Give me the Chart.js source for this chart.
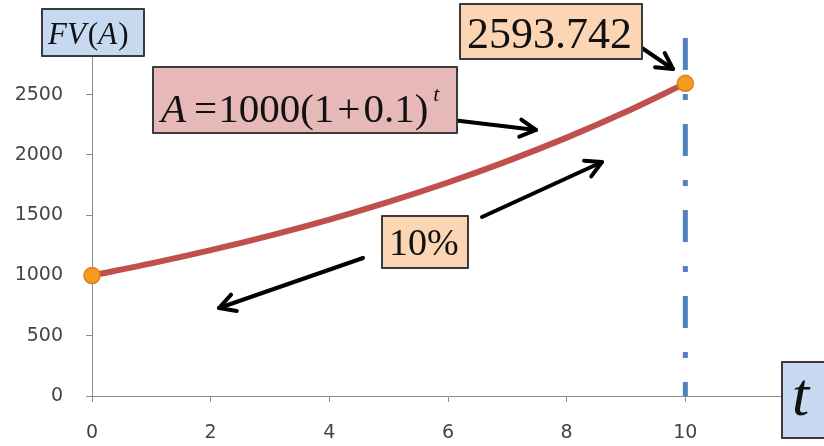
<!DOCTYPE html>
<html>
<head>
<meta charset="utf-8">
<script src="https://cdn.jsdelivr.net/npm/chart.js@4/dist/chart.umd.min.js"></script>
<style>
  html,body{margin:0;padding:0;background:#fff;}
  #wrap{width:824px;height:446px;position:relative;}
</style>
</head>
<body>
<div id="wrap"><canvas id="c" width="824" height="446"></canvas></div>
<script>
// ---- data ----
const tValues   = [0, 1, 2, 3, 4, 5, 6, 7, 8, 9, 10];
const fvValues  = [1000, 1100, 1210, 1331, 1464.1, 1610.51, 1771.56, 1948.72, 2143.59, 2357.95, 2593.742];
const markerT   = [0, 10];
const markerFV  = [1000, 2593.742];
const refLineT  = [10, 10];
const refLineY  = [2970, 0];
const xTickLabels = ['0', '2', '4', '6', '8', '10'];
const yTickLabels = ['0', '500', '1000', '1500', '2000', '2500'];
const valueLabel = '2593.742';
const rateLabel = '10%';

const toXY = (xs, ys) => xs.map((x, i) => ({x: x, y: ys[i]}));

const annotations = {
  id: 'annotations',
  afterDraw(chart) {
    const ctx = chart.ctx;
    ctx.save();
    function box(x1, y1, x2, y2, fill) {
      ctx.fillStyle = fill;
      ctx.fillRect(x1, y1, x2 - x1, y2 - y1);
      ctx.lineWidth = 2;
      ctx.strokeStyle = '#3a3a3a';
      ctx.strokeRect(x1, y1, x2 - x1, y2 - y1);
    }
    function arrow(x1, y1, x2, y2) {
      ctx.strokeStyle = '#000';
      ctx.lineWidth = 4;
      ctx.lineCap = 'round';
      ctx.lineJoin = 'round';
      ctx.beginPath();
      ctx.moveTo(x1, y1);
      ctx.lineTo(x2, y2);
      ctx.stroke();
      const a = Math.atan2(y2 - y1, x2 - x1);
      const L = 18, w = 0.5;
      ctx.beginPath();
      ctx.moveTo(x2 - L * Math.cos(a - w), y2 - L * Math.sin(a - w));
      ctx.lineTo(x2, y2);
      ctx.lineTo(x2 - L * Math.cos(a + w), y2 - L * Math.sin(a + w));
      ctx.stroke();
    }
    function runs(x, y, parts) {
      ctx.textBaseline = 'alphabetic';
      ctx.textAlign = 'left';
      ctx.fillStyle = '#111';
      for (const p of parts) {
        ctx.font = p.f;
        x += (p.dx || 0);
        ctx.fillText(p.t, x, y + (p.dy || 0));
        x += ctx.measureText(p.t).width;
      }
    }
    const serif = '"Liberation Serif", "DejaVu Serif", serif';

    // arrows
    arrow(633, 42, 673, 69);
    arrow(452, 120, 536, 130);
    arrow(482, 217, 602, 162);
    arrow(363, 258, 219, 308);

    // FV(A) box
    box(42, 9, 144, 56, '#c6d9f1');
    runs(48, 44, [
      {t: 'FV', f: 'italic 31px ' + serif},
      {t: '(', f: '31px ' + serif, dx: 2},
      {t: 'A', f: 'italic 31px ' + serif},
      {t: ')', f: '31px ' + serif, dx: 1}
    ]);

    // value box
    box(460, 4, 642, 59, '#fcd5b4');
    runs(467, 48, [{t: valueLabel, f: '44px ' + serif}]);

    // formula box
    box(153, 67, 457, 133, '#e6b9b8');
    runs(161, 122, [
      {t: 'A', f: 'italic 41px ' + serif},
      {t: '=', f: '41px ' + serif, dx: 8},
      {t: '1000(1', f: '41px ' + serif, dx: 1},
      {t: '+', f: '41px ' + serif, dx: 3},
      {t: '0.1)', f: '41px ' + serif, dx: 3},
      {t: 't', f: 'italic 22px ' + serif, dx: 5, dy: -21}
    ]);

    // rate box
    box(382, 216, 468, 268, '#fcd5b4');
    runs(389, 255, [{t: rateLabel, f: '38px ' + serif}]);

    // t box
    box(782, 362, 830, 438, '#c6d9f1');
    runs(792, 415, [{t: 't', f: 'italic 62px ' + serif}]);

    ctx.restore();
  }
};

const axisFont = {family: '"DejaVu Sans", sans-serif', size: 19};

new Chart(document.getElementById('c'), {
  type: 'line',
  data: {
    datasets: [
      {
        data: toXY(markerT, markerFV),
        showLine: false,
        pointRadius: 8,
        pointBackgroundColor: '#f59a23',
        pointBorderColor: '#e07f10',
        pointBorderWidth: 1.5,
        clip: false,
        order: 1
      },
      {
        data: toXY(tValues, fvValues),
        borderColor: '#c0504d',
        borderWidth: 6,
        pointRadius: 0,
        cubicInterpolationMode: 'monotone',
        order: 2
      },
      {
        data: toXY(refLineT, refLineY),
        borderColor: '#4f81bd',
        borderWidth: 5,
        borderDash: [32, 24, 6, 24],
        borderCapStyle: 'butt',
        pointRadius: 0,
        clip: false,
        order: 3
      }
    ]
  },
  plugins: [annotations],
  options: {
    responsive: false,
    animation: false,
    events: [],
    layout: {padding: {top: 34, right: 18, left: 0, bottom: 0}},
    plugins: {legend: {display: false}, tooltip: {enabled: false}},
    scales: {
      x: {
        type: 'linear',
        min: 0, max: 12,
        afterFit: s => { s.height = 50; },
        border: {display: true, color: '#8c8c8c', width: 1},
        grid: {display: true, drawOnChartArea: false, drawTicks: true, tickLength: 6, color: '#8c8c8c'},
        ticks: {
          stepSize: 2,
          padding: 20,
          color: '#444',
          font: axisFont,
          callback: (v) => { const i = xTickLabels.indexOf(String(v)); return i >= 0 ? xTickLabels[i] : ''; }
        }
      },
      y: {
        min: 0, max: 3000,
        afterFit: s => { s.width = 92; },
        border: {display: true, color: '#8c8c8c', width: 1},
        grid: {display: true, drawOnChartArea: false, drawTicks: true, tickLength: 6, color: '#8c8c8c'},
        ticks: {
          stepSize: 500,
          padding: 23,
          color: '#444',
          font: axisFont,
          callback: (v) => { const i = yTickLabels.indexOf(String(v)); return i >= 0 ? yTickLabels[i] : ''; }
        }
      }
    }
  }
});
</script>
</body>
</html>
